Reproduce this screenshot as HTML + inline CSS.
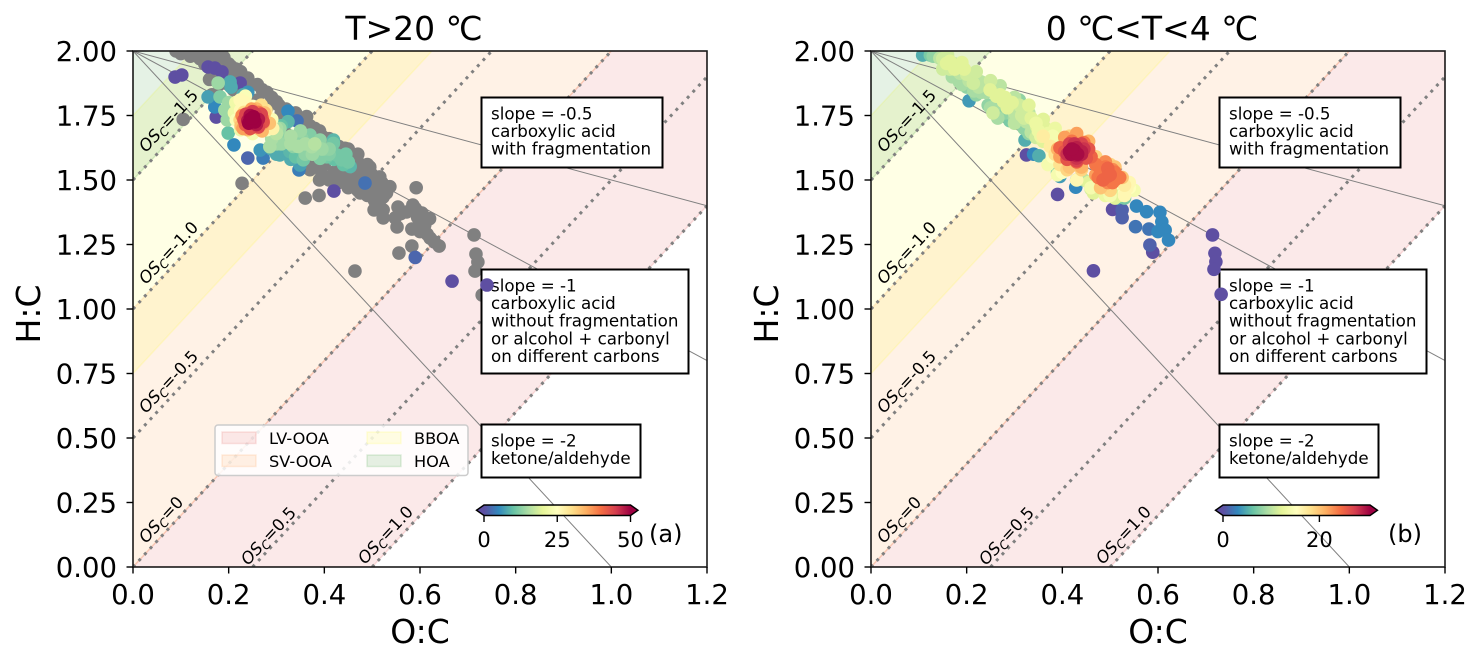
<!DOCTYPE html>
<html lang="en">
<head>
<meta charset="utf-8">
<title>Van Krevelen diagrams</title>
<style>
html,body{margin:0;padding:0;background:#fff;width:1480px;height:660px;overflow:hidden}
svg{display:block;font-family:"DejaVu Sans","Liberation Sans",sans-serif}
</style>
</head>
<body>
<svg id="figure" xmlns="http://www.w3.org/2000/svg" width="1480" height="660" viewBox="0 0 1480 660">
<defs>
<linearGradient id="spectral" x1="0" x2="1" y1="0" y2="0">
<stop offset="0" stop-color="#5e4fa2"/><stop offset="0.1" stop-color="#3288bd"/><stop offset="0.2" stop-color="#66c2a5"/><stop offset="0.3" stop-color="#abdda4"/><stop offset="0.4" stop-color="#e6f598"/><stop offset="0.5" stop-color="#ffffbf"/><stop offset="0.6" stop-color="#fee08b"/><stop offset="0.7" stop-color="#fdae61"/><stop offset="0.8" stop-color="#f46d43"/><stop offset="0.9" stop-color="#d53e4f"/><stop offset="1" stop-color="#9e0142"/>
</linearGradient>
<clipPath id="clip-a"><rect x="133" y="51" width="574" height="516"/></clipPath>
<clipPath id="clip-b"><rect x="871" y="51" width="574" height="516"/></clipPath>
</defs>
</svg>
<script>
// ---------- axis data ----------
const xTicks = [0, 0.2, 0.4, 0.6, 0.8, 1.0, 1.2];
const xTickLabels = ['0.0', '0.2', '0.4', '0.6', '0.8', '1.0', '1.2'];
const yTicks = [0, 0.25, 0.5, 0.75, 1, 1.25, 1.5, 1.75, 2];
const yTickLabels = ['0.00', '0.25', '0.50', '0.75', '1.00', '1.25', '1.50', '1.75', '2.00'];
const oscValues = [-1.5, -1.0, -0.5, 0, 0.5, 1.0];
const oscLabels = ['-1.5', '-1.0', '-0.5', '0', '0.5', '1.0'];
const slopeValues = [-0.5, -1, -2];
// region bands expressed as H:C intercepts of the line H:C = 2*O:C + c
const regionNames = ['LV-OOA', 'SV-OOA', 'BBOA', 'HOA'];
const regionUpper = [0, 1.0, 1.75, 2.6];
const regionLower = [-1.0, 0, 0.75, 1.5];
const regionColors = ['#d62728', '#ff7f0e', '#ffff00', '#008000'];
const spectralColors = ['#5e4fa2','#3288bd','#66c2a5','#abdda4','#e6f598','#ffffbf','#fee08b','#fdae61','#f46d43','#d53e4f','#9e0142'];

// ---------- panel (a) T>20 C ----------
const aGrayX = [.09,.11,.13,.15,.17,.185,.12,.14,.16,.185,.2,.215,.17,.16,.18,.165,.2,.22,.235,.245,.27,.29,.3,.31,.33,.35,.363,.37,.39,.36,.397,.41,.43,.443,.45,.47,.49,.495,.51,.52,.537,.4,.42,.44,.46,.48,.5,.515,.52,.475,.395,.37,.39,.426,.454,.489,.516,.533,.523,.523,.504,.548,.554,.572,.585,.604,.61,.621,.64,.583,.552,.523,.105,.228,.36,.389,.592,.464,.556,.583,.713,.717,.721,.715,.73,
.1,.125,.145,.165,.19,.205,.225,.24,.26,.28,
.305,.32,.34,.345,.38,.4,.42,.44,.455,.47,
.48,.5,.515,.53,.51,.49,.47,.45,.43,.41,
.38,.36,.34,.32,.3,.28,.26,.19,.2,.21,
.22,.17,.15,.38,.41,.43,.45,.47,.49,.505,
.355,.33,.59,.595,.6,.61,.63,.62,.56,.6,
.615];
const aGrayY = [2,2,2,2,2,1.99,1.98,1.97,1.97,1.96,1.95,1.93,1.94,1.89,1.87,1.83,1.9,1.9,1.87,1.869,1.85,1.82,1.803,1.76,1.75,1.74,1.746,1.71,1.69,1.68,1.667,1.66,1.63,1.623,1.62,1.6,1.56,1.55,1.51,1.49,1.474,1.56,1.53,1.52,1.5,1.48,1.46,1.45,1.43,1.45,1.519,1.54,1.5,1.527,1.5,1.558,1.512,1.473,1.434,1.384,1.384,1.353,1.395,1.376,1.403,1.372,1.326,1.275,1.244,1.31,1.318,1.353,1.735,1.487,1.43,1.44,1.47,1.147,1.217,1.244,1.287,1.213,1.182,1.147,1.054,
1.99,1.99,1.985,1.985,1.975,1.94,1.92,1.895,1.87,1.84,
1.79,1.775,1.76,1.73,1.7,1.65,1.64,1.6,1.58,1.57,
1.54,1.52,1.49,1.45,1.43,1.5,1.52,1.55,1.57,1.59,
1.6,1.62,1.65,1.68,1.72,1.78,1.81,1.93,1.87,1.85,
1.83,1.9,1.95,1.56,1.5,1.49,1.47,1.46,1.44,1.42,
1.6,1.6,1.39,1.355,1.33,1.3,1.26,1.35,1.37,1.3,
1.29];

const aX = [.42,.485,.59,.667,.74,.088,.102,.157,.171,.186,.224,.203,.178,.238,.157,.182,.171,.174,.192,.197,.199,.211,.24,.272,.266,.347,.324,.343,.224,.307,.321,.328,.307,.286,.353,.374,.391,.419,.426,.436,.454,.356,.391,.405,.324,.37,.419,.349,.34,.3,.335,.36,.38,.41,.445,.295,.31,
.216,.225,.251,.278,.29,.28,.25,.225,.235,.212,.268,.292,.224,.232,.258,.275,.278,.262,.24,.226,.237,.244,.262,.27,.262,.245,.24,.246,.256,.262,.258,.248,.245,.252,.25,.255,.25,
.205,.2,.23,.24,.225,.235,.215,
.29,.3,.31,.33,.345,.36,.38,.4,.41,
.36,.375,.395,.34,.33,.29,.3,
.232,.236,.25,.268,.272,.262,.245,.235,
.228,.248,.272,.285,.27,.23,
.24,.262,.245,.258,.242,
.44,.45,.42,.41,.35,.33,.3,.31];
const aY = [1.457,1.488,1.2,1.108,1.093,1.899,1.907,1.938,1.934,1.919,1.876,1.88,1.876,1.837,1.822,1.822,1.783,1.744,1.771,1.733,1.682,1.636,1.585,1.585,1.616,1.539,1.767,1.729,1.81,1.7,1.655,1.61,1.597,1.629,1.661,1.629,1.655,1.642,1.597,1.578,1.552,1.578,1.584,1.59,1.726,1.674,1.655,1.558,1.6,1.64,1.63,1.64,1.62,1.62,1.6,1.66,1.67,
1.733,1.77,1.785,1.77,1.735,1.695,1.68,1.695,1.8,1.76,1.79,1.7,1.733,1.762,1.775,1.76,1.72,1.7,1.695,1.71,1.74,1.76,1.762,1.74,1.71,1.705,1.725,1.75,1.752,1.735,1.718,1.72,1.735,1.745,1.73,1.725,1.74,
1.86,1.8,1.83,1.84,1.81,1.825,1.8,
1.66,1.68,1.64,1.64,1.63,1.64,1.64,1.62,1.62,
1.6,1.6,1.62,1.59,1.58,1.62,1.6,
1.733,1.755,1.765,1.755,1.725,1.705,1.7,1.715,
1.75,1.775,1.72,1.72,1.69,1.7,
1.73,1.735,1.75,1.715,1.72,
1.56,1.57,1.58,1.6,1.69,1.67,1.7,1.71];
const aV = [0,3,2,0,0,0,0,0,0,0,0,8,14,4,7,12,5,0,14,14,10,5,2,4,6,4,5,3,26,14,13,9,8,15,13,15,13,11,11,11,9,11,12,11,9,12,9,7,7,14,13,13,12,12,11,12,13,
24,26,25,29,24,24,23,22,26,22,30,27,31,30,34,33,32,33,34,33,40,38,39,40,38,39,38,45,45,46,44,45,52,52,52,52,52,
8,14,8,6,26,24,22,
15,16,14,15,15,15,16,13,13,
13,14,14,10,8,8,8,
43,44,45,44,43,44,43,42,
38,36,36,33,34,36,
48,48,49,48,50,
10,11,10,12,14,15,15,10];
const aVmax = 50;

// ---------- panel (b) 0<T<4 C ----------
const bX = [.39,.325,.525,.505,.525,.553,.581,.555,.576,.604,.608,.615,.622,.6,.583,.589,.465,.714,.719,.721,.717,.732,.205,.322,.34,.351,.395,.428,.108,.124,
.144,.158,.17,.186,.2,.214,.225,.24,.249,.262,.277,.29,.305,.32,.33,.347,.36,.374,.15,.175,.19,.23,.265,.255,.3,.315,.34,.355,.37,.31,.265,.385,
.36,.385,.4,.375,.37,.39,.43,.455,.5,.53,.535,.525,.515,.49,.46,.445,.41,.415,.47,.5,
.39,.405,.43,.455,.46,.44,.415,.395,.475,.51,.525,.5,.48,.47,.49,
.405,.42,.445,.45,.43,.41,.48,.505,.515,.495,.475,.49,.5,
.415,.43,.44,.43,.418,.425,.432,
.13,.15,.16,.165,.18,.175,.165,.195,.2,.205,
.22,.23,.24,.25,.26,.27,.28,.285,.295,.3,
.31,.315,.325,.335,.345,.35,.355,.365,.37,.38,
.36,.345,.335,.32,.215,.23,.2,.185,.17,.245,
.26,.28,.31,.3,
.405,.415,.44,.455,.45,.43,.41,.395,.46,.47,
.48,.495,.51,.52,.505,.485,.495,.5,.51,.53,
.54,.53,.52,.5,.395,.39,.38,.41,.44,.465,
.41,.445,.425,.43,.44,.42,
.19,.22,.25,.27,.3,.33,.36,.385,
.22,.25,.29,.33,
.4,.43,.46,.49,.51,
.54,.55,.53,.515];
const bY = [1.444,1.597,1.354,1.386,1.384,1.319,1.31,1.399,1.377,1.375,1.338,1.306,1.267,1.3,1.248,1.22,1.148,1.287,1.216,1.183,1.154,1.057,1.807,1.655,1.6,1.594,1.514,1.472,1.984,1.984,
1.972,1.952,1.945,1.914,1.9,1.875,1.86,1.865,1.849,1.825,1.804,1.8,1.771,1.74,1.76,1.706,1.71,1.681,1.93,1.95,1.87,1.84,1.78,1.76,1.72,1.73,1.69,1.67,1.66,1.81,1.74,1.65,
1.67,1.6,1.56,1.63,1.56,1.53,1.5,1.49,1.44,1.44,1.47,1.5,1.49,1.47,1.465,1.5,1.54,1.67,1.59,1.56,
1.62,1.665,1.68,1.65,1.59,1.55,1.55,1.59,1.55,1.55,1.51,1.47,1.47,1.52,1.57,
1.62,1.65,1.645,1.6,1.57,1.59,1.53,1.54,1.51,1.49,1.51,1.55,1.53,
1.61,1.625,1.61,1.595,1.6,1.615,1.6,
1.98,1.97,1.985,1.96,1.94,1.93,1.93,1.93,1.91,1.885,
1.895,1.88,1.84,1.87,1.85,1.83,1.82,1.78,1.8,1.76,
1.79,1.75,1.725,1.74,1.72,1.69,1.67,1.7,1.68,1.67,
1.65,1.665,1.685,1.7,1.845,1.85,1.86,1.88,1.9,1.79,
1.79,1.76,1.72,1.74,
1.61,1.64,1.64,1.62,1.585,1.575,1.58,1.625,1.59,1.56,
1.53,1.545,1.53,1.51,1.49,1.5,1.515,1.52,1.5,1.48,
1.47,1.45,1.44,1.46,1.56,1.52,1.59,1.545,1.54,1.45,
1.6,1.62,1.64,1.585,1.6,1.62,
1.955,1.92,1.885,1.865,1.82,1.79,1.735,1.7,
1.83,1.78,1.73,1.68,
1.53,1.5,1.47,1.44,1.43,
1.49,1.46,1.43,1.43];
const bV = [0,0,1,0,1,2,2,3,3,3,3,3,3,3,1,0,0,0,0,0,0,0,4,5,3,5,4,3,5,7,
10,12,11,10,9,11,10,9,12,12,12,11,9,11,10,12,11,12,11,10,9,9,8,11,10,8,10,9,11,8,9,12,
17,18,18,17,14,7,4,12,14,16,16,8,15,15,11,10,19,19,19,19,
21,22,22,21,21,21,20,22,21,20,20,19,20,22,23,
24,24,24,25,25,25,23,23,23,23,24,24,24,
30,29,29,29,30,30,30,
8,11,11,12,12,12,11,12,11,10,
10,10,9,10,9,12,12,12,12,10,
11,11,10,12,13,13,13,12,13,14,
12,11,10,8,9,8,8,9,9,8,
9,8,7,9,
26,27,27,26,26,27,26,25,25,24,
24,25,24,24,24,25,25,25,24,17,
15,15,12,19,18,14,15,17,19,12,
28,28,28,28,29,30,
12,11,11,10,10,12,12,13,
8,9,7,8,
15,16,14,13,12,
16,14,7,5];
const bVmax = 30.5;

// ---------- helpers ----------
const NS = 'http://www.w3.org/2000/svg';
const svg = document.getElementById('figure');
function mk(parent, tag, attrs, text) {
  const el = document.createElementNS(NS, tag);
  for (const k in attrs) el.setAttribute(k, attrs[k]);
  if (text !== undefined) el.textContent = text;
  parent.appendChild(el);
  return el;
}
function hex(c) { return [parseInt(c.slice(1,3),16), parseInt(c.slice(3,5),16), parseInt(c.slice(5,7),16)]; }
function spectral(t) {
  t = Math.max(0, Math.min(1, t));
  const p = t * (spectralColors.length - 1);
  const i = Math.min(Math.floor(p), spectralColors.length - 2);
  const f = p - i;
  const a = hex(spectralColors[i]), b = hex(spectralColors[i + 1]);
  return 'rgb(' + a.map((v, n) => Math.round(v + (b[n] - v) * f)).join(',') + ')';
}
// clip a polygon (data coordinates) to the axes rectangle
function clipHalf(pts, inside, cross) {
  const out = [];
  pts.forEach((p, i) => {
    const q = pts[(i + 1) % pts.length];
    if (inside(p)) out.push(p);
    if (inside(p) !== inside(q)) out.push(cross(p, q));
  });
  return out;
}
function clipRect(pts) {
  const atX = X => (p, q) => [X, p[1] + (q[1] - p[1]) * (X - p[0]) / (q[0] - p[0])];
  const atY = Y => (p, q) => [p[0] + (q[0] - p[0]) * (Y - p[1]) / (q[1] - p[1]), Y];
  pts = clipHalf(pts, p => p[0] >= 0, atX(0));
  pts = clipHalf(pts, p => p[0] <= 1.2, atX(1.2));
  pts = clipHalf(pts, p => p[1] >= 0, atY(0));
  pts = clipHalf(pts, p => p[1] <= 2, atY(2));
  return pts;
}

function drawPanel(cfg) {
  const left = cfg.left, right = cfg.left + 574, top = 51, bottom = 567;
  const sx = v => left + v / 1.2 * 574;
  const sy = v => bottom - v / 2 * 516;
  const root = mk(svg, 'g', {});
  
  
  const plot = mk(root, 'g', {'clip-path': 'url(#' + cfg.clip + ')'});
  
  

  // regions
  regionNames.forEach((name, i) => {
    const u = regionUpper[i], l = regionLower[i], x0 = -2, x1 = 3;
    const clipped = clipRect([[x0, 2*x0+u], [x1, 2*x1+u], [x1, 2*x1+l], [x0, 2*x0+l]]);
    const pts = clipped.map(p => sx(p[0]) + ',' + sy(p[1])).join(' ');
    const poly = mk(plot, 'polygon', {points: pts, fill: regionColors[i], 'fill-opacity': 0.1, stroke: regionColors[i], 'stroke-opacity': 0.13, 'stroke-width': 1.5});
    
    
  });

  // OSc dotted lines, H:C = 2*O:C - OSc
  oscValues.forEach(v => {
    const xa = Math.max(0, v / 2), xb = Math.min(1.2, (2 + v) / 2);
    const ln = mk(plot, 'line', {x1: sx(xa), y1: sy(2*xa - v), x2: sx(xb), y2: sy(2*xb - v), stroke: '#808080', 'stroke-width': 3, 'stroke-dasharray': '3 5.3'});
    
    
  });

  // slope lines from (0,2)
  slopeValues.forEach(s => {
    const xe = Math.min(1.2, -2 / s);
    const ln = mk(plot, 'line', {x1: sx(0), y1: sy(2), x2: sx(xe), y2: sy(2 + s * xe), stroke: '#808080', 'stroke-width': 1});
    
    
  });

  // gray points under boxes
  (cfg.grayX || []).forEach((x, i) => {
    const c = mk(plot, 'circle', {cx: sx(x), cy: sy(cfg.grayY[i]), r: 6.8, fill: '#808080'});
    
    
  });

  // annotation boxes
  const dx = left - 133;
  const boxes = [
    {x: 481.5 + dx, y: 97.5, w: 181, h: 70, lines: ['slope = -0.5', 'carboxylic acid', 'with fragmentation']},
    {x: 481.5 + dx, y: 269.5, w: 207, h: 104, lines: ['slope = -1', 'carboxylic acid', 'without fragmentation', 'or alcohol + carbonyl', 'on different carbons']},
    {x: 481.5 + dx, y: 424.5, w: 159, h: 53, lines: ['slope = -2', 'ketone/aldehyde']}
  ];
  boxes.forEach(b => {
    const g = mk(root, 'g', {});
    
    
    mk(g, 'rect', {x: b.x, y: b.y, width: b.w, height: b.h, fill: '#fff', stroke: '#000', 'stroke-width': 2});
    b.lines.forEach((t, i) => mk(g, 'text', {x: b.x + 9.5, y: b.y + 22 + i * 17.6, 'font-size': 16.7, fill: '#000'}, t));
  });

  // coloured points, low values first
  const order = cfg.x.map((_, i) => i).sort((p, q) => cfg.v[p] - cfg.v[q]);
  const top2 = mk(root, 'g', {'clip-path': 'url(#' + cfg.clip + ')'});
  
  
  order.forEach(i => {
    const c = mk(top2, 'circle', {cx: sx(cfg.x[i]), cy: sy(cfg.y[i]), r: 6.8, fill: spectral(cfg.v[i] / cfg.vmax)});
    
    
  });

  // OSc labels
  const labelPos = [[146,153],[146,285],[146,414],[146,544],[248,566],[365,565]];
  oscLabels.forEach((t, i) => {
    const px = labelPos[i][0] + dx, py = labelPos[i][1];
    const lab = mk(root, 'text', {transform: 'translate(' + px + ',' + py + ') rotate(-47)', 'font-size': 16.5, fill: '#000'});
    
    
    mk(lab, 'tspan', {'font-style': 'italic'}, 'OS');
    mk(lab, 'tspan', {'font-style': 'italic', 'font-size': 12, dy: 3}, 'C');
    mk(lab, 'tspan', {dy: -3}, '=' + t);
  });

  // legend
  if (cfg.legend) {
    const g = mk(root, 'g', {});
    
    
    mk(g, 'rect', {x: 215, y: 425, width: 253, height: 50.5, rx: 3, fill: '#fff', 'fill-opacity': 0.85, stroke: '#ccc', 'stroke-width': 1.5});
    const lx = [222, 222, 367, 367], tx = [269, 269, 414, 414], ly = [432, 455, 432, 455];
    regionNames.forEach((name, i) => {
      const e = mk(g, 'g', {});
      
      
      mk(e, 'rect', {x: lx[i], y: ly[i], width: 34, height: 11.5, fill: regionColors[i], 'fill-opacity': 0.1, stroke: regionColors[i], 'stroke-opacity': 0.12, 'stroke-width': 1.5});
      mk(e, 'text', {x: tx[i], y: ly[i] + 12, 'font-size': 16.2, fill: '#000'}, name);
    });
  }

  // colourbar
  const cb = mk(root, 'g', {});
  
  
  const cx0 = cfg.cbLeft, cw = cfg.cbWidth, cy0 = 505, ch = 10.5;
  mk(cb, 'polygon', {points: (cx0-7.5)+','+(cy0+ch/2)+' '+cx0+','+cy0+' '+cx0+','+(cy0+ch), fill: spectralColors[0]});
  mk(cb, 'polygon', {points: (cx0+cw+7.5)+','+(cy0+ch/2)+' '+(cx0+cw)+','+cy0+' '+(cx0+cw)+','+(cy0+ch), fill: spectralColors[10]});
  mk(cb, 'rect', {x: cx0, y: cy0, width: cw, height: ch, fill: 'url(#spectral)'});
  mk(cb, 'polygon', {points: (cx0-7.5)+','+(cy0+ch/2)+' '+cx0+','+cy0+' '+(cx0+cw)+','+cy0+' '+(cx0+cw+7.5)+','+(cy0+ch/2)+' '+(cx0+cw)+','+(cy0+ch)+' '+cx0+','+(cy0+ch), fill: 'none', stroke: '#000', 'stroke-width': 1.4});
  cfg.cbTicks.forEach(v => {
    const tx = cx0 + v / cfg.vmax * cw;
    mk(cb, 'line', {x1: tx, y1: cy0 + ch, x2: tx, y2: cy0 + ch + 6.5, stroke: '#000', 'stroke-width': 1.4});
    mk(cb, 'text', {x: tx, y: 547, 'font-size': 21, 'text-anchor': 'middle', fill: '#000'}, String(v));
  });
  const pl = mk(root, 'text', {x: cfg.tagX, y: 542, 'font-size': 24, fill: '#000'}, cfg.tag);
  
  

  // frame and ticks
  const frame = mk(root, 'rect', {x: left, y: top, width: 574, height: 516, fill: 'none', stroke: '#1a1a1a', 'stroke-width': 1.6});
  
  
  const xa = mk(root, 'g', {});
  
  
  xTicks.forEach((v, i) => {
    mk(xa, 'line', {x1: sx(v), x2: sx(v), y1: bottom, y2: bottom + 6.5, stroke: '#000', 'stroke-width': 1.4});
    mk(xa, 'text', {x: sx(v), y: 604, 'font-size': 27.5, 'text-anchor': 'middle', fill: '#000'}, xTickLabels[i]);
  });
  const ya = mk(root, 'g', {});
  
  
  yTicks.forEach((v, i) => {
    mk(ya, 'line', {x1: left - 6.5, x2: left, y1: sy(v), y2: sy(v), stroke: '#000', 'stroke-width': 1.4});
    mk(ya, 'text', {x: left - 16, y: sy(v) + 10, 'font-size': 27.5, 'text-anchor': 'end', fill: '#000'}, yTickLabels[i]);
  });
  const title = mk(root, 'text', {x: left + 281, y: 40, 'font-size': 33, 'text-anchor': 'middle', fill: '#000'}, cfg.title);
  
  
  const xt = mk(root, 'text', {x: left + 287, y: 643, 'font-size': 33, 'text-anchor': 'middle', fill: '#000'}, 'O:C');
  
  
  const yt = mk(root, 'text', {transform: 'translate(' + (left - 93) + ',314) rotate(-90)', 'font-size': 33, 'text-anchor': 'middle', fill: '#000'}, 'H:C');
  
  
}

drawPanel({id: 'panel-a', left: 133, clip: 'clip-a', title: 'T>20 \u2103', grayX: aGrayX, grayY: aGrayY, x: aX, y: aY, v: aV, vmax: aVmax, legend: true, cbLeft: 484, cbWidth: 146.5, cbTicks: [0, 25, 50], tag: '(a)', tagX: 649});
drawPanel({id: 'panel-b', left: 871, clip: 'clip-b', title: '0 \u2103<T<4 \u2103', x: bX, y: bY, v: bV, vmax: bVmax, legend: false, cbLeft: 1223, cbWidth: 147, cbTicks: [0, 20], tag: '(b)', tagX: 1388});
</script>
</body>
</html>
